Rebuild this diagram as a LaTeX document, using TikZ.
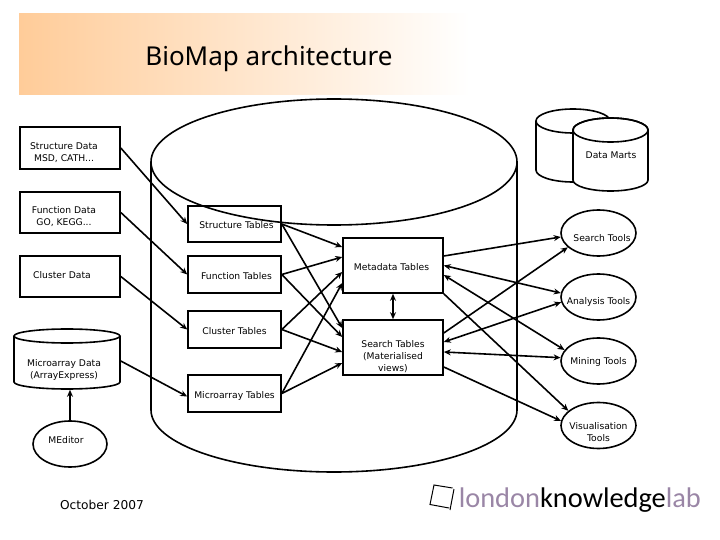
\documentclass[tikz,border=0pt]{standalone}
\usepackage{fontspec}
\setmainfont{DejaVu Sans}
\newfontfamily\titlefont{Noto Sans}
\newfontfamily\logofont{Carlito}
\usetikzlibrary{shapes.geometric, arrows.meta}
\definecolor{headerorange}{HTML}{FFCC99}
\definecolor{logopurple}{HTML}{9A86A6}
\tikzset{
	tablebox/.style={draw, minimum width=100pt, inner sep=0pt, align=center, text height=9pt, text depth=0pt},
	toolnode/.style={draw, ellipse, minimum width=75pt, minimum height=46pt, inner sep=0pt},
	every label/.style={align=center, inner sep=0pt}
}
\begin{document}
\begin{tikzpicture}[x=1pt, y=-1pt, font=\fontsize{9.2}{12}\selectfont, >={Stealth[length=7pt, width=6pt]}, line width=1.6pt]
	\useasboundingbox (0,0) rectangle (720,540);
	\fill[left color=headerorange, right color=white, draw=none] (19,14) rectangle (470,95);
	\node[font=\titlefont\fontsize{26}{30}\selectfont] (title) at (269,59) {BioMap architecture};
	\draw (334,162) ellipse (183pt and 63pt);
	\draw (151,162)--(151,410) arc[start angle=180, end angle=360, x radius=183pt, y radius=62pt]--(517,162);
	\draw (573,121) ellipse (37pt and 12pt);
	\draw (536,121)--(536,170) arc[start angle=180, end angle=270, x radius=37pt, y radius=12pt];
	\filldraw[fill=white] (573,130)--(573,180) arc[start angle=180, end angle=360, x radius=37.5pt, y radius=11pt]--(648,130) arc[start angle=0, end angle=180, x radius=37.5pt, y radius=12pt];
	\draw (610.5,130) ellipse (37.5pt and 12pt);
	\draw (67,336) ellipse (53pt and 7pt);
	\draw (14,336)--(14,382) arc[start angle=180, end angle=360, x radius=53pt, y radius=7pt]--(120,336);
	\node[tablebox, minimum height=42pt, label={[xshift=-6pt, yshift=-5pt]center:{Structure Data\\MSD, CATH...}}] (structdata) at (70,148) {};
	\node[tablebox, minimum height=41pt, label={[xshift=-6pt, yshift=-4.5pt]center:{Function Data\\GO, KEGG...}}] (funcdata) at (70,212.5) {};
	\node[tablebox, minimum height=41pt, label={[xshift=-8pt, yshift=1pt]center:Cluster Data}] (clusterdata) at (70,276.5) {};
	\node[minimum width=106pt, minimum height=60pt, inner sep=0pt, label={[xshift=-3pt, yshift=-11pt]center:{Microarray Data\\(ArrayExpress)}}] (arraydata) at (67,359) {};
	\node[toolnode, minimum width=74pt, label={[xshift=-4pt, yshift=4pt]center:MEditor}] (meditor) at (70,444) {};
	\node[tablebox, minimum width=93pt, minimum height=36pt] (structtab) at (234.5,224) {\hspace*{4pt}Structure Tables};
	\node[tablebox, minimum width=93pt, minimum height=37pt] (functab) at (234.5,274.5) {\hspace*{4pt}Function Tables};
	\node[tablebox, minimum width=93pt, minimum height=37pt] (clustertab) at (234.5,329.5) {Cluster Tables};
	\node[tablebox, minimum width=93pt, minimum height=37pt] (arraytab) at (234.5,393.5) {Microarray Tables};
	\node[tablebox, minimum height=55pt] (metadata) at (393,265.5) {\hspace*{-3pt}Metadata Tables};
	\node[tablebox, minimum height=55pt, label={[yshift=-9.5pt]center:{Search Tables\\(Materialised\\views)}}] (searchtab) at (393,347.5) {};
	\node (marts) at (611,155) {Data Marts};
	\node[toolnode, label={[xshift=3.5pt, yshift=-5pt]center:Search Tools}] (search) at (598.5,233) {};
	\node[toolnode, label={[yshift=-5pt]center:Analysis Tools}] (analysis) at (598.5,297) {};
	\node[toolnode, label={[yshift=-1pt]center:Mining Tools}] (mining) at (598.5,361) {};
	\node[toolnode, label={[yshift=-6.5pt]center:{Visualisation\\Tools}}] (vis) at (598.5,425.5) {};
	\node[font=\fontsize{12.2}{14}\selectfont] (date) at (102,504.5) {October 2007};
	\node[font=\logofont\fontsize{28.4}{30}\selectfont, inner sep=0pt, anchor=west] (logo) at (458,500) {\textcolor{logopurple}{london}knowledge\textcolor{logopurple}{lab}};
	\draw[line width=1pt] (452.5,488)--(434,485)--(430,504.5)--(449,508) (454,489)--(450,510);
	\foreach \a/\b in {structdata/structtab, funcdata/functab, clusterdata/clustertab}{
	\draw[->] (\a.east)--(\b.west);
	}
	\draw[->] ([yshift=-2pt]arraydata.east)--([yshift=-3pt]arraytab.west);
	\draw[->] (meditor.north)--(meditor.north|-arraydata.south);
	\foreach \a/\sb in {structtab/18.5, functab/8.5, clustertab/-6.5, arraytab/-17.5}{
	\draw[->] (\a.east)--([yshift=\sb pt]metadata.west);
	}
	\foreach \a/\sb in {structtab/19.5, functab/10.5, clustertab/-4.5, arraytab/-15.5}{
	\draw[->] (\a.east)--([yshift=\sb pt]searchtab.west);
	}
	\draw[<->] (metadata.south)--(searchtab.north);
	\draw[->] ([yshift=9.5pt]metadata.east)--(search.186);
	\draw[->] ([yshift=14.5pt]searchtab.east)--(search.205);
	\draw[<->] (metadata.east)--(analysis.174);
	\draw[<->] ([yshift=5.5pt]searchtab.east)--(analysis.188);
	\draw[<->] ([yshift=-9.5pt]metadata.east)--(mining.162);
	\draw[<->] ([yshift=-4.5pt]searchtab.east)--(mining.175);
	\draw[->] (metadata.south east)--(vis.154);
	\draw[->] ([yshift=-19.5pt]searchtab.east)--(vis.173);
\end{tikzpicture}
\end{document}
